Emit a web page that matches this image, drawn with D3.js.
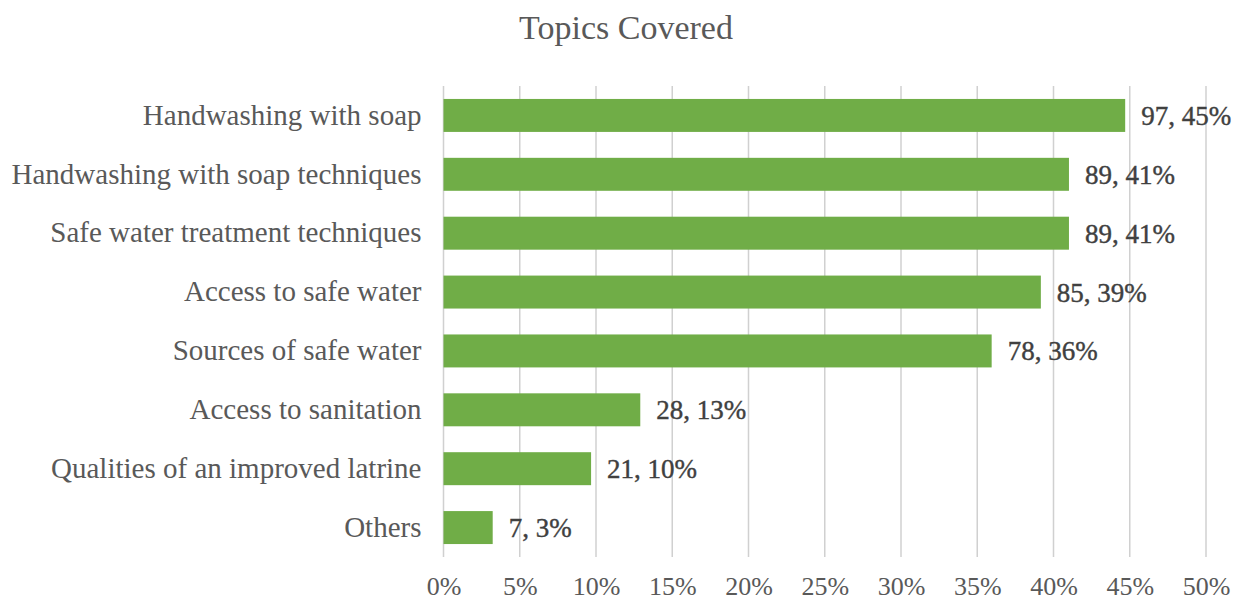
<!DOCTYPE html>
<html>
<head>
<meta charset="utf-8">
<script src="https://cdn.jsdelivr.net/npm/d3@7"></script>
<style>
  html, body { margin: 0; padding: 0; background: #ffffff; }
  svg text { font-family: "Liberation Serif", "DejaVu Serif", serif; }
</style>
</head>
<body>
<svg id="chart" width="1233" height="603"></svg>
<script>
// Topics covered in hygiene sessions: respondent counts per topic
const topics = [
  "Handwashing with soap",
  "Handwashing with soap techniques",
  "Safe water treatment techniques",
  "Access to safe water",
  "Sources of safe water",
  "Access to sanitation",
  "Qualities of an improved latrine",
  "Others"
];
const counts = [97, 89, 89, 85, 78, 28, 21, 7];
const respondents = 217;
const tickValues = [0, 0.05, 0.10, 0.15, 0.20, 0.25, 0.30, 0.35, 0.40, 0.45, 0.50];

const rows = topics.map((t, i) => ({ topic: t, count: counts[i], share: counts[i] / respondents }));

const svg = d3.select("#chart");
const margin = { left: 443.5, right: 27, top: 86, bottom: 46 };
const W = 1233, H = 603;
const pct = d3.format(".0%");

const x = d3.scaleLinear().domain([0, 0.5]).range([margin.left, W - margin.right]);
const y = d3.scaleBand().domain(topics).range([margin.top, H - margin.bottom]).paddingInner(0.44).paddingOuter(0.22);

// Title
svg.append("text")
  .attr("x", 626).attr("y", 39)
  .attr("text-anchor", "middle")
  .attr("fill", "#595959")
  .attr("font-size", 34)
  .text("Topics Covered");

// Vertical gridlines
svg.append("g")
  .selectAll("line")
  .data(tickValues)
  .join("line")
  .attr("x1", d => x(d)).attr("x2", d => x(d))
  .attr("y1", margin.top).attr("y2", H - margin.bottom)
  .attr("stroke", "#d0d0d0")
  .attr("stroke-width", 1.5);

// Bottom axis tick labels
const xAxis = d3.axisBottom(x).tickValues(tickValues).tickFormat(pct).tickSize(0).tickPadding(0);
const gx = svg.append("g").attr("transform", `translate(0,${H - 8})`).call(xAxis);
gx.select(".domain").remove();
gx.selectAll("text").attr("fill", "#595959").attr("font-size", 26).attr("font-family", "Liberation Serif, serif").attr("dy", "0");

// Category labels
const yAxis = d3.axisLeft(y).tickSize(0).tickPadding(22);
const gy = svg.append("g").attr("transform", `translate(${margin.left},0)`).call(yAxis);
gy.select(".domain").remove();
gy.selectAll("text").attr("fill", "#595959").attr("font-size", 29).attr("font-family", "Liberation Serif, serif").attr("dy", "0.32em");

// Bars
svg.append("g")
  .selectAll("rect")
  .data(rows)
  .join("rect")
  .attr("x", x(0))
  .attr("y", d => y(d.topic))
  .attr("width", d => x(d.share) - x(0))
  .attr("height", y.bandwidth())
  .attr("fill", "#70ad47");

// Value labels: count, share
svg.append("g")
  .selectAll("text")
  .data(rows)
  .join("text")
  .attr("x", d => x(d.share) + 16)
  .attr("y", d => y(d.topic) + y.bandwidth() / 2)
  .attr("dy", "0.35em")
  .attr("fill", "#404040")
  .attr("stroke", "#404040")
  .attr("stroke-width", 0.4)
  .attr("font-size", 27)
  .text(d => `${d.count}, ${pct(d.share)}`);
</script>
</body>
</html>
